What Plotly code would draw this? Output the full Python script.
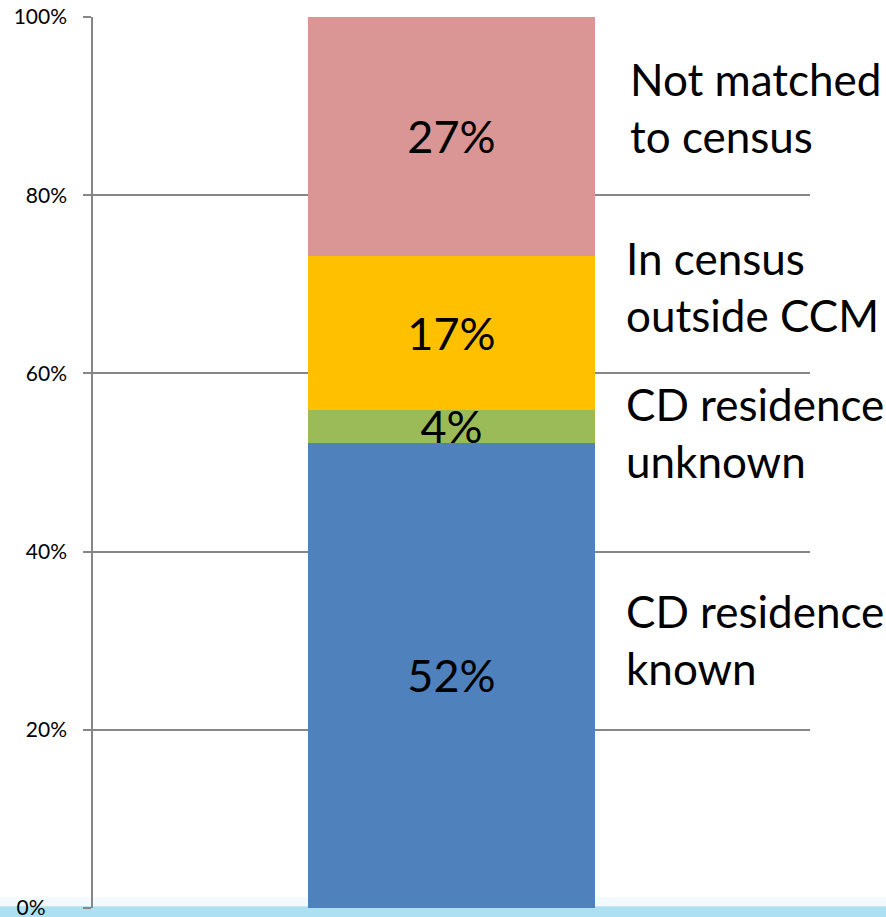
import plotly.graph_objects as go

# stacked shares
category = [""]
segments = ["CD residence known", "CD residence unknown", "In census outside CCM", "Not matched to census"]
shares = [52.2, 3.7, 17.3, 26.8]
share_labels = ["52%", "4%", "17%", "27%"]
colors = ["#4f81bd", "#9bbb59", "#ffc000", "#d99694"]
side_labels = ["CD residence<br>known", "CD residence<br>unknown", "In census<br>outside CCM", "Not matched<br>to census"]
side_label_y = [30.1, 53.4, 69.7, 89.8]
side_label_x = [0.741, 0.741, 0.741, 0.746]
tick_vals = [0, 20, 40, 60, 80, 100]
tick_text = ["0%" + "\u00a0" * 4, "20%", "40%", "60%", "80%", "100%"]

FONT = "Lato, 'Open Sans', sans-serif"

fig = go.Figure()
for name, v, lab, c in zip(segments, shares, share_labels, colors):
    fig.add_trace(go.Bar(
        x=category, y=[v], name=name, marker=dict(color=c, line=dict(width=0)),
        text=[lab], textposition="inside", insidetextanchor="middle",
        constraintext="none", textangle=0,
        textfont=dict(size=45, color="black", family=FONT),
        hoverinfo="skip",
    ))

for lab, y, x in zip(side_labels, side_label_y, side_label_x):
    fig.add_annotation(x=x, xref="paper", y=y, yref="y", text=lab,
                       showarrow=False, xanchor="left", yanchor="middle", align="left",
                       font=dict(size=44, color="black", family=FONT))

# light blue strip along the bottom edge, with a faint fade above it
fig.add_shape(type="rect", xref="paper", yref="paper", x0=-0.2, x1=1.2, y0=0.002, y1=0.012,
              fillcolor="#f3fafd", line=dict(width=0), layer="below")
fig.add_shape(type="rect", xref="paper", yref="paper", x0=-0.2, x1=1.2, y0=-0.012, y1=0.002,
              fillcolor="#aee0f4", line=dict(width=0), layer="below")

fig.update_layout(
    barmode="stack", bargap=0.6, showlegend=False,
    width=886, height=917,
    margin=dict(l=93, r=76, t=17, b=9),
    paper_bgcolor="white", plot_bgcolor="rgba(0,0,0,0)",
    font=dict(family=FONT, color="black"),
    xaxis=dict(showticklabels=False, showgrid=False, zeroline=False, showline=False, fixedrange=True),
    yaxis=dict(range=[0, 100], tickvals=tick_vals, ticktext=tick_text,
               showgrid=True, gridcolor="#868686", gridwidth=1.5,
               showline=True, linecolor="#868686", linewidth=1.5,
               ticks="outside", ticklen=8, tickcolor="#868686", tickwidth=1.5,
               zeroline=False, automargin=False, ticklabelstandoff=12,
               ticklabeloverflow="allow",
               tickfont=dict(size=21, color="black", family=FONT)),
)

fig.write_html("out.html", config={"displayModeBar": False},
               post_script="document.body.style.margin='0';")
